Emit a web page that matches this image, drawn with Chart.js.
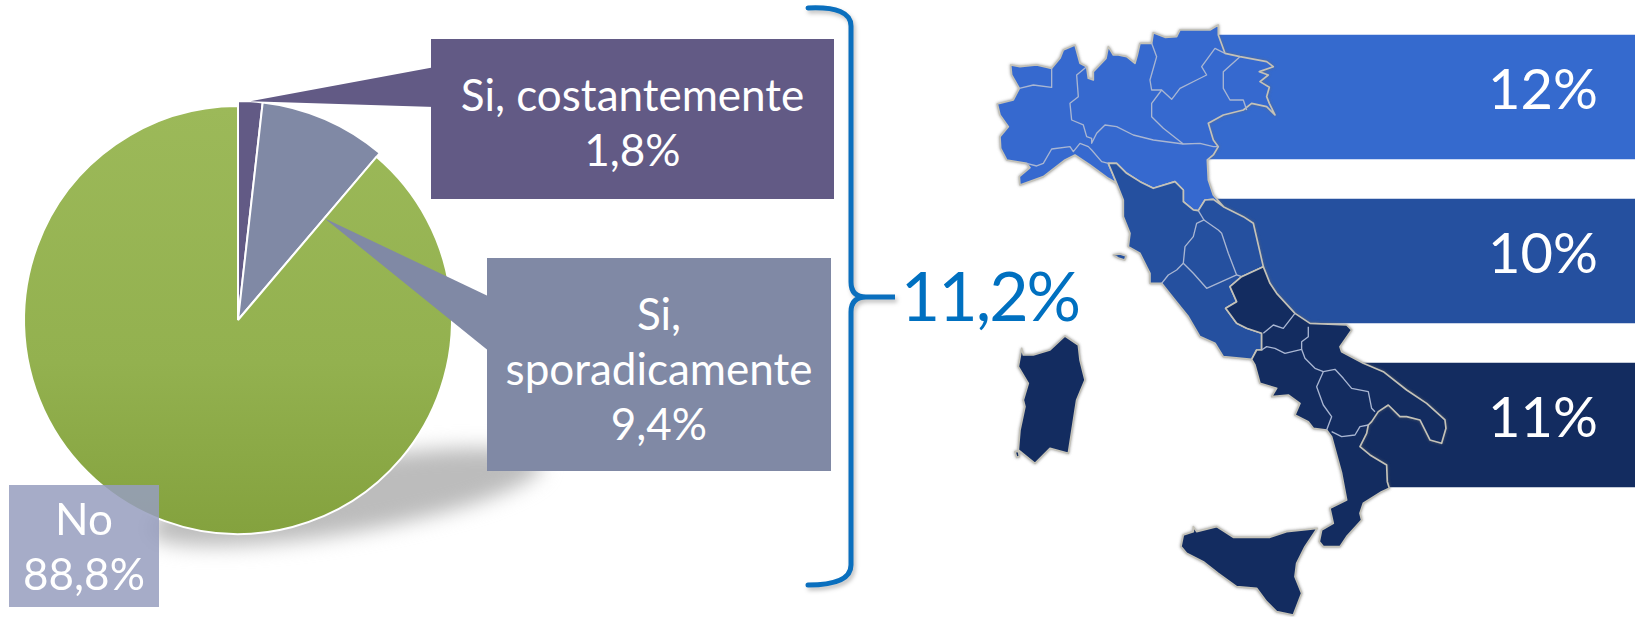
<!DOCTYPE html>
<html>
<head>
<meta charset="utf-8">
<title>Italia</title>
<script src="https://cdn.jsdelivr.net/npm/chart.js@4/dist/chart.umd.min.js"></script>
<style>
	html, body { margin: 0; padding: 0; background: #fff; }
	#page { position: relative; width: 1635px; height: 617px; overflow: hidden; font-family: Lato, sans-serif; color: #fff; }
	#page > * { position: absolute; }
	#pieChart { left: 0; top: 0; }
	#bandChart { left: 1100px; top: 0; clip-path: polygon(100px 0, 535px 0, 535px 617px, 250px 617px, 250px 342px, 180px 342px, 100px 180px); }
	#map { left: 0; top: 0; filter: drop-shadow(0 0 1.5px rgba(110,110,110,0.7)); }
	#brace { left: 0; top: 0; filter: drop-shadow(2px 3px 2px rgba(0,0,0,0.25)); }
	.box { text-align: center; font-size: 44px; line-height: 55px; box-sizing: border-box; }
	#total { left: 900px; top: 250px; width: 180px; text-align: center; font-size: 68px; line-height: 90px; color: #0070c0; letter-spacing: -2px; }
</style>
</head>
<body>
<div id="page">
	<canvas id="pieChart" width="600" height="617"></canvas>
	<canvas id="bandChart" width="535" height="617"></canvas>

	<svg id="map" width="1635" height="617">
		<g transform="translate(980,0) scale(0.3333)" stroke-linejoin="round">
			<g stroke="#c4c2b8" stroke-width="5">
				<polygon fill="#3669cf" points="52,312 60,345 85,380 60,410 62,445 80,480 140,490 150,503 118,530 120,555 190,530 255,480 285,465 330,495 385,535 410,550 385,490 410,490 440,520 480,545 520,565 585,545 610,570 610,605 640,630 655,632 675,600 700,598 730,620 700,585 685,540 682,480 700,465 715,440 700,420 685,370 730,345 790,330 815,310 860,320 885,345 868,310 860,290 868,262 840,245 865,225 838,215 880,200 860,185 780,170 735,160 715,105 715,75 690,90 650,90 600,90 590,110 555,112 520,98 515,130 480,130 472,165 465,190 440,170 415,165 400,165 385,140 378,175 340,215 340,240 325,235 320,200 300,190 285,135 250,150 240,175 215,205 170,195 120,200 92,195 95,225 118,265 100,300"/>
				<polygon fill="#25509f" points="410,550 430,600 430,650 450,700 445,740 480,760 510,820 510,850 545,850 585,900 625,950 660,1010 705,1030 730,1070 815,1078 830,1050 845,1050 845,1000 800,985 770,970 737,925 770,905 750,860 785,830 850,800 820,670 790,650 730,620 700,598 675,600 655,632 640,630 610,605 610,570 585,545 520,565 480,545 440,520 410,490 385,490"/>
				<polygon fill="#25509f" points="400,765 420,762 438,768 434,780 415,774"/>
			</g>
			<g fill="none" stroke="#a9b6d2" stroke-width="4">
				<polyline points="118,265 160,255 215,262 215,205"/>
				<polyline points="320,200 290,225 295,290 270,310 275,360 310,375 320,410 335,415 335,430 350,400 375,375 410,380 460,405 520,420 610,432 660,430 700,440 715,440"/>
				<polyline points="140,490 170,498 190,490 215,447 270,440 280,455 300,430 325,440 335,450 365,485 385,490"/>
				<polyline points="515,130 530,170 510,240 515,270 545,270 575,298 600,265 650,240 680,225 665,200 705,145 735,160"/>
				<polyline points="545,270 515,310 515,350 550,385 610,432"/>
				<polyline points="780,170 730,215 730,265 750,300 790,300 800,330"/>
				<polygon points="672,660 650,670 640,710 615,740 610,790 640,820 680,865 770,825 745,760 725,700 715,690"/>
				<polyline points="655,632 672,660"/>
				<polyline points="545,850 565,825 590,810 610,790"/>
				<polyline points="770,825 785,830"/>
			</g>
		</g>
		<g transform="translate(980,300) scale(0.3333)" stroke-linejoin="round">
			<g fill="#132c60" stroke="#c4c2b8" stroke-width="5">
				<polygon points="850,-100 870,-50 890,-20 945,40 990,70 1100,75 1115,90 1080,140 1085,155 1150,190 1210,215 1280,270 1340,310 1395,360 1398,385 1385,430 1350,420 1320,360 1280,350 1260,350 1225,315 1195,335 1175,365 1165,375 1160,400 1140,440 1170,465 1220,495 1222,545 1228,565 1205,575 1150,610 1140,640 1145,660 1100,710 1080,740 1030,740 1018,725 1025,690 1060,670 1050,625 1100,600 1085,520 1055,410 1040,390 1000,385 985,365 945,345 960,310 925,285 875,290 890,265 840,250 825,195 815,178 830,150 845,150 845,100 800,85 770,70 737,25 770,5 750,-40 785,-70"/>
				<polygon points="125,145 130,165 160,165 210,150 255,108 295,135 300,180 315,240 290,300 265,460 210,445 165,490 115,450 120,390 135,320 130,300 145,250 115,200"/>
				<polygon points="640,680 650,695 710,680 760,712 800,712 870,712 920,695 970,690 1012,685 975,740 950,790 945,830 965,880 940,945 890,935 860,905 830,865 770,860 715,820 670,785 620,760 603,740 610,705 640,695"/>
				<polygon points="105,455 116,455 118,470 110,472"/>
			</g>
			<g fill="none" stroke="#a9b6d2" stroke-width="4">
				<polyline points="945,40 910,85 880,75 850,100"/>
				<polyline points="985,80 985,110 965,125 965,148"/>
				<polyline points="845,150 860,140 885,145 915,160 965,148 975,175 1005,205 1030,215"/>
				<polyline points="1040,390 1055,350 1030,315 1010,260 1030,215 1065,208 1090,235 1115,265 1165,275 1175,325 1185,335"/>
				<polyline points="1055,395 1085,410 1125,405 1140,380 1165,375"/>
			</g>
		</g>
	</svg>

	<svg id="brace" width="1635" height="617">
		<path d="M808,8 Q851,6 851,26 L851,282 Q851,297 866,297 L895,297 L866,297 Q851,297 851,312 L851,565 Q851,585 808,585" fill="none" stroke="#0a6fbe" stroke-width="5" stroke-linecap="round"/>
	</svg>

	<div class="box" id="boxCost" style="left:431px;top:39px;width:403px;height:160px;background:#625a85;padding-top:28px;"></div>
	<div class="box" id="boxSpor" style="left:487px;top:258px;width:344px;height:213px;background:#8089a5;padding-top:28px;"></div>
	<div class="box" id="boxNo" style="left:9px;top:485px;width:150px;height:122px;background:rgba(150,158,190,0.85);padding-top:6px;"></div>
	<div id="total"></div>
</div>

<script>
var pieLabels = ["Si, costantemente", "Si, sporadicamente", "No"];
var pieValues = [1.8, 9.4, 88.8];
var pieColors = ["#625a85", "#8089a5", "#94b350"];
var totalYes = 11.2;

var bandLabels = ["Nord", "Centro", "Sud e Isole"];
var bandValues = [12, 10, 11];
var bandColors = ["#356ace", "#25509f", "#132c60"];

function comma(v) {
	return v.toFixed(1).replace(".", ",");
}

document.getElementById("boxCost").innerHTML = pieLabels[0] + "<br>" + comma(pieValues[0]) + "%";
document.getElementById("boxSpor").innerHTML = "Si,<br>sporadicamente<br>" + comma(pieValues[1]) + "%";
document.getElementById("boxNo").innerHTML = pieLabels[2] + "<br>" + comma(pieValues[2]) + "%";
document.getElementById("total").innerHTML = comma(totalYes) + "%";

Chart.defaults.animation = false;

// the two small slices stick out a bit, the callouts start from them
var piePlugin = {
	id: "pieExtras",
	afterDatasetsUpdate: function(chart) {
		var arcs = chart.getDatasetMeta(0).data;
		arcs[0].outerRadius += 5;
		arcs[1].outerRadius += 5;
	},
	beforeDatasetsDraw: function(chart) {
		var c = chart.ctx;
		c.save();
		c.filter = "blur(10px)";
		c.fillStyle = "#bcbcbc";
		c.beginPath();
		c.ellipse(345, 497, 200, 36, -0.17, 0, Math.PI * 2);
		c.fill();
		c.restore();
	},
	afterDatasetsDraw: function(chart) {
		var arcs = chart.getDatasetMeta(0).data;
		var c = chart.ctx;
		var a = arcs[0], b = arcs[1];
		var angA = (a.startAngle + a.endAngle) / 2;
		c.save();
		c.fillStyle = pieColors[0];
		c.beginPath();
		c.moveTo(a.x + a.outerRadius * Math.cos(angA), a.y + a.outerRadius * Math.sin(angA));
		c.lineTo(435, 67);
		c.lineTo(435, 107);
		c.closePath();
		c.fill();
		c.fillStyle = pieColors[1];
		c.beginPath();
		c.moveTo(b.x + b.outerRadius * 0.61 * Math.cos(b.endAngle), b.y + b.outerRadius * 0.61 * Math.sin(b.endAngle));
		c.lineTo(490, 297);
		c.lineTo(490, 352);
		c.closePath();
		c.fill();
		c.restore();
	}
};

new Chart(document.getElementById("pieChart"), {
	type: "pie",
	plugins: [piePlugin],
	data: {
		labels: pieLabels,
		datasets: [{
			data: pieValues,
			backgroundColor: function(ctx) {
				if (ctx.dataIndex < 2) return pieColors[ctx.dataIndex];
				var g = ctx.chart.ctx.createLinearGradient(0, 107, 0, 533);
				g.addColorStop(0, "#9cb959");
				g.addColorStop(0.6, "#93b14f");
				g.addColorStop(1, "#84a23e");
				return g;
			},
			borderColor: "#fff",
			borderWidth: 2
		}]
	},
	options: {
		responsive: false,
		layout: { padding: { left: 23, right: 147, top: 105, bottom: 82 } },
		plugins: { legend: { display: false }, tooltip: { enabled: false } }
	}
});

// percent text sits in the right part of each band
var bandTextPlugin = {
	id: "bandText",
	afterDatasetsDraw: function(chart) {
		var c = chart.ctx;
		var bars = chart.getDatasetMeta(0).data;
		c.save();
		c.fillStyle = "#fff";
		c.font = "56px Lato";
		c.textAlign = "center";
		c.textBaseline = "middle";
		for (var i = 0; i < bars.length; i++) {
			c.fillText(bandValues[i] + "%", 443, bars[i].y - 6);
		}
		c.restore();
	}
};

new Chart(document.getElementById("bandChart"), {
	type: "bar",
	plugins: [bandTextPlugin],
	data: {
		labels: bandLabels,
		datasets: [{
			data: bandValues,
			backgroundColor: bandColors,
			barPercentage: 1,
			categoryPercentage: 0.76
		}]
	},
	options: {
		responsive: false,
		indexAxis: "y",
		layout: { padding: { top: 15, bottom: 110 } },
		scales: {
			x: { display: false, min: 0, max: 12, reverse: true },
			y: { display: false }
		},
		plugins: { legend: { display: false }, tooltip: { enabled: false } }
	}
});
</script>
</body>
</html>
